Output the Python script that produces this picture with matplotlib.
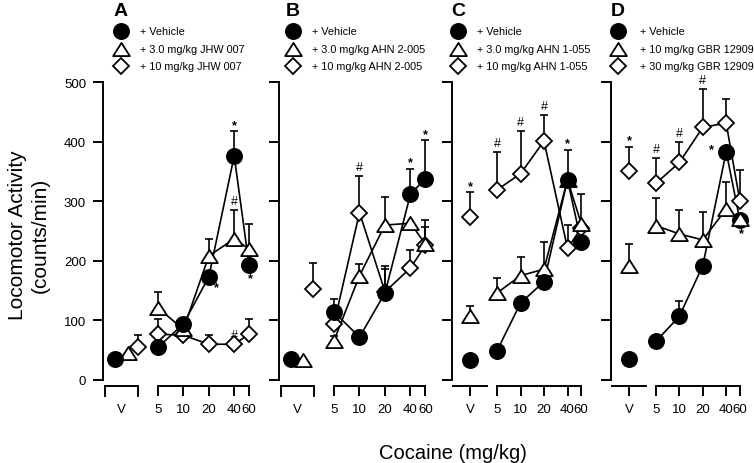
import numpy as np
import matplotlib
matplotlib.use('Agg')
import matplotlib.pyplot as plt
from matplotlib.path import Path
from matplotlib.lines import Line2D
from matplotlib.transforms import blended_transform_factory

plt.rcParams['font.family'] = ['Liberation Sans', 'DejaVu Sans']

# ---------------- data ----------------
doses = [5, 10, 20, 40, 60]
dose_labels = ['5', '10', '20', '40', '60']
panel_letters = ['A', 'B', 'C', 'D']
legend_labels = [
    ['+ Vehicle', '+ 3.0 mg/kg JHW 007', '+ 10 mg/kg JHW 007'],
    ['+ Vehicle', '+ 3.0 mg/kg AHN 2-005', '+ 10 mg/kg AHN 2-005'],
    ['+ Vehicle', '+ 3.0 mg/kg AHN 1-055', '+ 10 mg/kg AHN 1-055'],
    ['+ Vehicle', '+ 10 mg/kg GBR 12909', '+ 30 mg/kg GBR 12909'],
]

# values at "V" (vehicle instead of cocaine), per panel A-D
vehicle_V = [35, 35, 34, 35]
vehicle_V_sem = [0, 0, 0, 0]
low_V = [45, 33, 107, 192]
low_V_sem = [0, 0, 17, 37]
high_V = [55, 153, 273, 351]
high_V_sem = [20, 44, 42, 40]

# cocaine dose-effect curves (counts/min), per panel
vehicle_A = [55, 94, 173, 376, 193]
vehicle_A_sem = [0, 8, 0, 41, 0]
low_A = [121, 85, 208, 237, 220]
low_A_sem = [26, 0, 29, 49, 42]
high_A = [77, 75, 60, 60, 77]
high_A_sem = [26, 0, 15, 0, 25]

vehicle_B = [114, 72, 146, 312, 338]
vehicle_B_sem = [22, 0, 40, 42, 64]
low_B = [66, 175, 260, 263, 228]
low_B_sem = [8, 20, 47, 0, 40]
high_B = [94, 281, 148, 188, 226]
high_B_sem = [0, 62, 43, 30, 30]

vehicle_C = [49, 129, 165, 336, 231]
vehicle_C_sem = [0, 0, 0, 50, 0]
low_C = [146, 175, 186, 336, 262]
low_C_sem = [25, 31, 45, 0, 50]
high_C = [319, 346, 401, 221, 255]
high_C_sem = [64, 72, 44, 39, 0]

vehicle_D = [65, 107, 192, 383, 268]
vehicle_D_sem = [0, 26, 0, 0, 0]
low_D = [259, 245, 235, 287, 270]
low_D_sem = [47, 40, 47, 45, 0]
high_D = [330, 365, 424, 431, 300]
high_D_sem = [42, 34, 64, 40, 52]

panels = [
    dict(vehicle=(vehicle_A, vehicle_A_sem), low=(low_A, low_A_sem), high=(high_A, high_A_sem)),
    dict(vehicle=(vehicle_B, vehicle_B_sem), low=(low_B, low_B_sem), high=(high_B, high_B_sem)),
    dict(vehicle=(vehicle_C, vehicle_C_sem), low=(low_C, low_C_sem), high=(high_C, high_C_sem)),
    dict(vehicle=(vehicle_D, vehicle_D_sem), low=(low_D, low_D_sem), high=(high_D, high_D_sem)),
]
V_values = dict(vehicle=(vehicle_V, vehicle_V_sem), low=(low_V, low_V_sem), high=(high_V, high_V_sem))

# significance marks: (panel, series, dose or 'V', symbol, placement)
marks = [
    (0, 'vehicle', 20, '*', 'below-right'),
    (0, 'vehicle', 40, '*', 'above'),
    (0, 'vehicle', 60, '*', 'below'),
    (0, 'low', 40, '#', 'above'),
    (0, 'high', 40, '#', 'above'),
    (1, 'high', 10, '#', 'above'),
    (1, 'vehicle', 40, '*', 'above'),
    (1, 'vehicle', 60, '*', 'above'),
    (2, 'high', 'V', '*', 'above'),
    (2, 'high', 5, '#', 'above'),
    (2, 'high', 10, '#', 'above'),
    (2, 'high', 20, '#', 'above'),
    (2, 'vehicle', 40, '*', 'above'),
    (3, 'high', 'V', '*', 'above'),
    (3, 'high', 5, '#', 'above'),
    (3, 'high', 10, '#', 'above'),
    (3, 'high', 20, '#', 'above'),
    (3, 'vehicle', 40, '*', 'left'),
    (3, 'vehicle', 60, '*', 'below'),
]

# ---------------- layout / style ----------------
W, H = 754, 464
fig = plt.figure(figsize=(W / 100, H / 100), dpi=100)


def fx(px):
    return px / W


def fy(py):
    return 1 - py / H


Y0_PX, Y500_PX, XAXIS_PX = 381, 83, 387
ppu = (Y0_PX - Y500_PX) / 500.0
ybot = -(XAXIS_PX - Y0_PX) / ppu

geom = [
    dict(L=103, p5=158, k=25.4, vc=-1.44, hw=0.65, bracket=True, voff=dict(vehicle=-0.24, low=0.24, high=0.67)),
    dict(L=279, p5=334, k=25.5, vc=-1.43, hw=0.65, bracket=True, voff=dict(vehicle=-0.25, low=0.22, high=0.61)),
    dict(L=452, p5=497, k=23.5, vc=-1.15, hw=0.72, bracket=False, voff=dict(vehicle=0, low=0, high=0)),
    dict(L=611, p5=656, k=23.4, vc=-1.15, hw=0.72, bracket=False, voff=dict(vehicle=0, low=0, high=0)),
]
legend_marker_x = [121, 293, 458, 618]
legend_text_x = [140, 312, 477, 640]
legend_rows = [32, 50, 67]

tri_path = Path([(0, 0.79), (-1, -0.79), (1, -0.79), (0, 0.79)],
                [Path.MOVETO, Path.LINETO, Path.LINETO, Path.CLOSEPOLY])
styles = dict(
    vehicle=dict(marker='o', ms=11, mfc='black', mec='black', mew=1.2),
    low=dict(marker=tri_path, ms=12, mfc='white', mec='black', mew=1.3),
    high=dict(marker='D', ms=7.8, mfc='white', mec='black', mew=1.3),
)
z_orders = [
    dict(high=4, low=5, vehicle=6),
    dict(high=4, low=5, vehicle=6),
    dict(high=4, low=5, vehicle=6),
    dict(high=4, vehicle=5, low=6),
]
order = ['vehicle', 'low', 'high']
LW = 1.2
SPINE_LW = 1.4
TICK_LEN = 7.2
mark_offsets = {  # (dx px, dy px) ; 'above' relative to error-bar top
    'above': (0, 9),
    'below': (1, -13),
    'below-right': (8, -10),
    'left': (-15, 3),
}
u5 = np.log2(5)

for i, g in enumerate(geom):
    L, p5, k = g['L'], g['p5'], g['k']
    R = p5 + k * (np.log2(60) - u5) + 12
    ax = fig.add_axes([fx(L), fy(XAXIS_PX), (R - L) / W, (XAXIS_PX - Y500_PX) / H])
    ax.set_xlim(u5 + (L - p5) / k, u5 + (R - p5) / k)
    ax.set_ylim(ybot, 500)
    ax.patch.set_visible(False)
    for s in ['top', 'right', 'bottom']:
        ax.spines[s].set_visible(False)
    ax.spines['left'].set_bounds(0, 500)
    ax.spines['left'].set_linewidth(SPINE_LW)
    ax.set_yticks([0, 100, 200, 300, 400, 500])
    if i == 0:
        ax.set_yticklabels(['0', '100', '200', '300', '400', '500'])
    else:
        ax.set_yticklabels([])
    vpos = u5 + g['vc']
    xt = [vpos] + list(np.log2(doses))
    ax.set_xticks(xt)
    ax.set_xticklabels(['V'] + dose_labels)
    ax.tick_params(axis='both', direction='out', length=TICK_LEN, width=SPINE_LW,
                   labelsize=9.5, color='black')
    ax.tick_params(axis='x', pad=5)
    ax.tick_params(axis='y', pad=5)
    if g['bracket']:
        ax.xaxis.get_major_ticks()[0].tick1line.set_markersize(0)
    trans = blended_transform_factory(ax.transData, ax.transAxes)
    # broken x axis: dose segment
    ax.plot([np.log2(5), np.log2(60)], [0, 0], transform=trans, color='black',
            lw=SPINE_LW, clip_on=False, solid_capstyle='projecting')
    tick_ax = 10 / (XAXIS_PX - Y500_PX)
    if g['bracket']:
        ax.plot([vpos - g['hw'], vpos - g['hw'], vpos + g['hw'], vpos + g['hw']],
                [-tick_ax, 0, 0, -tick_ax], transform=trans, color='black',
                lw=SPINE_LW, clip_on=False, solid_joinstyle='miter')
    else:
        ax.plot([vpos - g['hw'], vpos + g['hw']], [0, 0], transform=trans,
                color='black', lw=SPINE_LW, clip_on=False)

    pos_cache = {}
    for s in order:
        vals, sem = panels[i][s]
        vV = V_values[s][0][i]
        sV = V_values[s][1][i]
        xv = vpos + g['voff'][s]
        xs = np.log2(doses)
        allx = np.concatenate([[xv], xs])
        ally = np.array([vV] + list(vals), dtype=float)
        alls = np.array([sV] + list(sem), dtype=float)
        pos_cache[s] = (allx, ally, alls)
        eb = ax.errorbar(allx, ally, yerr=[np.zeros_like(alls), alls], fmt='none',
                         ecolor='black', elinewidth=LW, capsize=2.6, capthick=LW, zorder=2)
        for art in eb.get_children():
            art.set_clip_on(False)
        ax.plot(xs, vals, '-', color='black', lw=LW, zorder=3, clip_on=False)
        ax.plot(allx, ally, ls='none', zorder=z_orders[i][s], clip_on=False, **styles[s])

    for (pi, s, d, sym, where) in marks:
        if pi != i:
            continue
        allx, ally, alls = pos_cache[s]
        idx = 0 if d == 'V' else 1 + doses.index(d)
        dx, dy = mark_offsets[where]
        if where == 'above':
            y = ally[idx] + alls[idx]
            if sym == '*':
                dy -= 2.5
        else:
            y = ally[idx]
        ax.annotate(sym, (allx[idx], y), xytext=(dx * 0.72, dy * 0.72),
                    textcoords='offset points', ha='center', va='center',
                    fontsize=9, fontweight='bold' if sym == '*' else 'normal',
                    annotation_clip=False)

    # panel letter and legend
    fig.text(fx(legend_marker_x[i]), fy(11), panel_letters[i], ha='center', va='center',
             fontsize=14, fontweight='bold')
    for r, s in enumerate(order):
        fig.add_artist(Line2D([fx(legend_marker_x[i])], [fy(legend_rows[r])],
                              transform=fig.transFigure, ls='none', **styles[s]))
        fig.text(fx(legend_text_x[i]), fy(legend_rows[r]), legend_labels[i][r],
                 ha='left', va='center', fontsize=7.8)

fig.text(fx(29), fy(235), 'Locomotor Activity\n(counts/min)', rotation=90,
         ha='center', va='center', fontsize=15, multialignment='center', linespacing=1.25)
fig.text(fx(453), fy(459), 'Cocaine (mg/kg)', ha='center', va='baseline', fontsize=14.5)

fig.savefig('out.png', dpi=100)
